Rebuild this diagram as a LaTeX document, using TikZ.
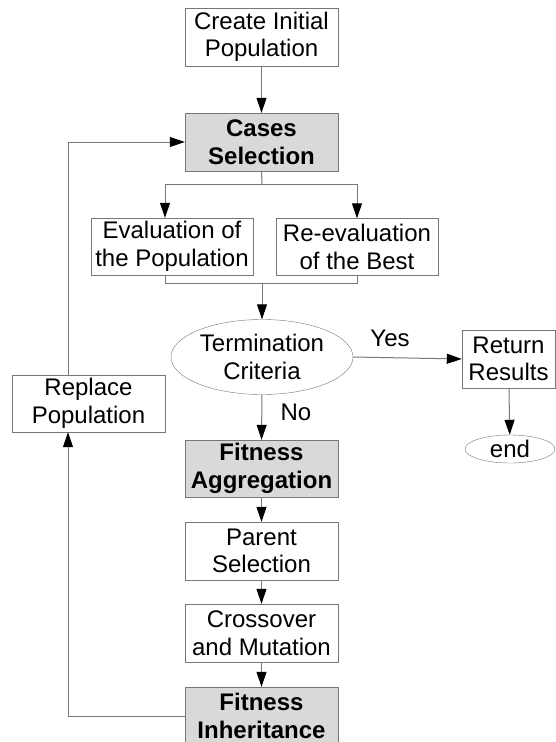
\documentclass[tikz,border=0pt]{standalone}
\usepackage{fontspec}
\setmainfont{Liberation Sans}
\usepackage{tikz}
\usetikzlibrary{arrows.meta,positioning,calc,shapes.geometric}
\definecolor{BoxGray}{HTML}{D9D9D9}
\definecolor{LineGray}{HTML}{777777}

\begin{document}
\begin{tikzpicture}[x=1pt, y=-1pt,
    every node/.style={font=\fontsize{24}{27.5}\selectfont},
    box/.style={draw=LineGray, fill=white, align=center, inner sep=1pt,
      minimum width=153pt, minimum height=58pt},
    shaded/.style={box, fill=BoxGray, font=\fontsize{24}{27.5}\selectfont\bfseries},
    oval/.style={ellipse, draw=LineGray, align=center, inner sep=0pt},
    link/.style={draw=LineGray, line width=1pt},
    arr/.style={link, -{Triangle[length=15pt, width=10pt, color=black]}}]
  \useasboundingbox (0,0) rectangle (556,742);
  \node[box] (init) at (261.5,37) {Create Initial\\Population};
  \node[shaded] (cases) at (261.5,142) {Cases\\Selection};
  \node[box, minimum width=162pt, minimum height=57pt] (evalpop) at (172,246.5) {Evaluation of\\the Population};
  \node[box, minimum width=162pt, minimum height=57pt] (reeval) at (357,247) {Re-evaluation\\of the Best};
  \node[oval, minimum width=182pt, minimum height=75pt] (term) at (262,357) {Termination\\Criteria};
  \node[box, minimum width=93pt] (ret) at (508.5,359) {Return\\Results};
  \node[oval, minimum width=90pt, minimum height=28pt] (endnode) at (510,449) {end};
  \node[shaded, minimum height=57pt] (fitagg) at (261.5,468.5) {Fitness\\Aggregation};
  \node[box] (parent) at (261.5,551) {Parent\\Selection};
  \node[box] (cross) at (261.5,633) {Crossover\\and Mutation};
  \node[shaded] (fitinh) at (261.5,716) {Fitness\\Inheritance};
  \node[box, minimum height=57pt] (replace) at (88.5,403.5) {Replace\\Population};
  \node (yes) at (390,338) {Yes};
  \node (no) at (296,412) {No};
  \coordinate (split) at (262,184);
  \coordinate (merge) at (262,283);

  \draw[arr] (init) -- (cases);
  \draw[link] (cases.south) -- (split);
  \draw[arr] (split) -| ([xshift=-7pt]evalpop.north);
  \draw[arr] (split) -| (reeval.north);
  \draw[link] ([xshift=-7pt]evalpop.south) |- (merge);
  \draw[link] (reeval.south) |- (merge);
  \draw[arr] (merge) -- (term.north);
  \draw[arr] (term.east) -- (ret.west);
  \draw[arr] (ret) -- (endnode);
  \draw[arr] (term.south) -- (fitagg.north);
  \draw[arr] (fitagg) -- (parent);
  \draw[arr] (parent) -- (cross);
  \draw[arr] (cross) -- (fitinh);
  \draw[arr] (fitinh.west) -| ([xshift=-20.5pt]replace.south);
  \draw[arr] ([xshift=-20.5pt]replace.north) |- (cases.west);
\end{tikzpicture}
\end{document}
